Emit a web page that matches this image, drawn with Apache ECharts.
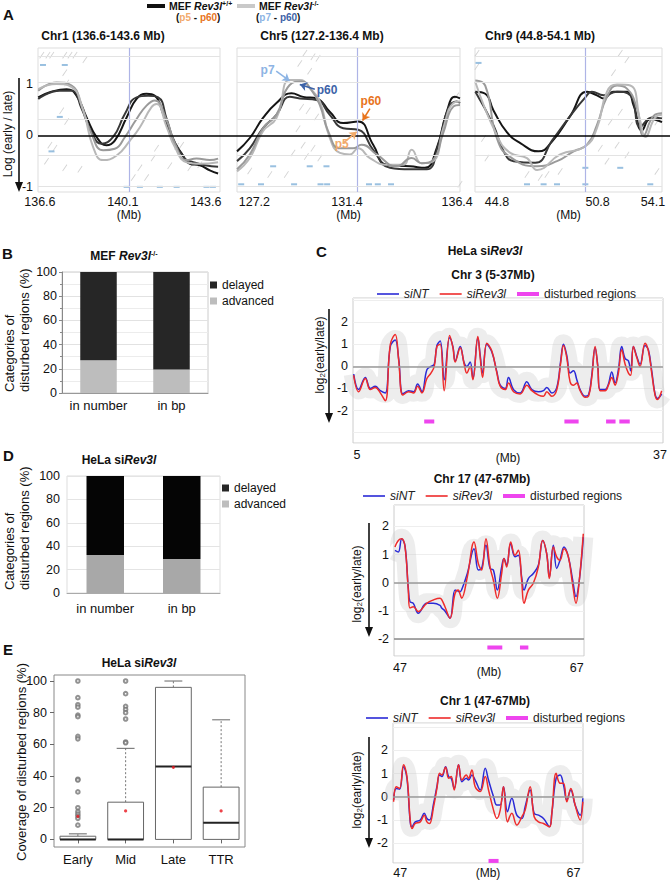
<!DOCTYPE html>
<html>
<head>
<meta charset="utf-8">
<script src="https://cdn.jsdelivr.net/npm/echarts@6/dist/echarts.min.js"></script>
<style>
html,body{margin:0;padding:0;background:#fff}
#main{width:670px;height:881px}
</style>
</head>
<body>
<div id="main"></div>
<script>
// ---------- A: replication timing, MEF (Mb, log early/late) ----------
var chr1Wt1 = [[136.53,0.74],[137.02,0.84],[137.73,0.9],[138.15,0.77],[138.57,0.35],[138.99,-0.03],[139.41,-0.19],[139.76,-0.1],[140.26,0.35],[140.68,0.71],[141.1,0.81],[141.45,0.77],[141.8,0.42],[142.16,-0.03],[142.58,-0.35],[142.93,-0.55],[143.35,-0.58],[143.77,-0.68],[144.12,-0.74]];
var chr1Wt2 = [[136.53,0.71],[137.44,0.87],[137.94,0.87],[138.36,0.52],[138.78,0.06],[139.2,-0.16],[139.69,-0.03],[140.19,0.42],[140.68,0.74],[141.17,0.77],[141.59,0.74],[141.95,0.32],[142.22,-0.06],[142.72,-0.45],[143.07,-0.52],[143.56,-0.58],[144.12,-0.61]];
var chr1Ko1 = [[136.53,0.87],[137.3,1.03],[137.94,0.97],[138.36,0.58],[138.78,0.03],[139.27,-0.29],[139.76,-0.26],[140.19,-0.03],[140.68,0.32],[141.1,0.58],[141.45,0.68],[141.95,0.29],[142.3,-0.16],[142.79,-0.48],[143.21,-0.45],[143.77,-0.48],[144.12,-0.45]];
var chr1Ko2 = [[136.53,0.9],[137.3,1.0],[137.94,0.94],[138.43,0.48],[138.85,-0.23],[139.27,-0.48],[139.84,-0.39],[140.4,-0.1],[140.82,0.16],[141.31,0.55],[141.52,0.61],[141.95,0.16],[142.3,-0.23],[142.79,-0.52],[143.35,-0.55],[144.12,-0.52]];

var chr5Wt1 = [[126.41,-0.31],[126.99,-0.05],[127.59,0.34],[128.2,0.63],[128.88,0.82],[129.41,0.75],[130.02,0.72],[130.62,0.46],[131.23,0.24],[131.91,0.27],[132.59,-0.18],[133.2,-0.57],[134.26,-0.6],[134.94,-0.63],[135.47,-0.25],[135.93,0.46],[136.3,0.75],[136.53,0.72]];
var chr5Wt2 = [[126.41,-0.5],[126.99,-0.25],[127.59,0.14],[128.2,0.4],[128.8,0.75],[129.26,0.72],[130.02,0.69],[130.62,0.4],[131.23,0.14],[131.91,0.11],[132.59,-0.28],[133.35,-0.63],[134.26,-0.66],[135.02,-0.66],[135.55,-0.18],[136.0,0.53],[136.38,0.66],[136.53,0.63]];
var chr5Ko1 = [[126.41,-0.7],[126.99,-0.44],[127.59,0.08],[128.2,0.34],[128.8,1.08],[129.26,1.08],[129.71,0.92],[130.17,0.66],[130.62,-0.05],[131.08,-0.34],[131.53,-0.37],[131.91,-0.25],[132.44,-0.44],[133.2,-0.57],[133.95,-0.57],[134.34,-0.28],[134.79,-0.54],[135.32,-0.5],[135.77,0.14],[136.23,0.63],[136.53,0.66]];
var chr5Ko2 = [[126.41,-0.66],[126.99,-0.37],[127.59,0.14],[128.2,0.4],[128.8,0.98],[129.34,1.05],[129.79,0.88],[130.17,0.59],[130.55,0.08],[131.08,-0.25],[131.68,-0.25],[132.06,-0.18],[132.75,-0.37],[133.65,-0.6],[134.34,-0.44],[134.79,-0.54],[135.32,-0.47],[135.77,0.05],[136.23,0.56],[136.53,0.59]];

var chr9Wt1 = [[43.51,0.85],[44.1,0.81],[44.6,0.48],[45.4,0.06],[46.19,-0.15],[47.28,-0.31],[48.08,-0.12],[49.17,0.38],[50.17,0.85],[50.76,0.78],[51.16,0.72],[51.75,0.85],[52.55,0.85],[52.95,0.58],[53.45,0.1],[53.94,0.32],[54.64,0.26]];
var chr9Wt2 = [[43.51,0.85],[44.6,0.19],[45.2,-0.31],[45.79,-0.5],[47.08,-0.53],[48.08,-0.1],[49.17,0.38],[50.07,0.74],[50.46,0.85],[51.16,0.78],[51.96,0.85],[52.75,0.78],[53.35,0.17],[54.04,0.35],[54.64,0.33]];
var chr9Ko1 = [[43.51,1.07],[44.1,0.97],[44.8,-0.06],[45.59,-0.42],[47.19,-0.6],[48.38,-0.5],[49.37,-0.31],[50.17,-0.18],[50.76,0.2],[51.36,0.75],[51.96,0.97],[52.55,0.91],[53.15,0.52],[53.54,0],[54.14,0.38],[54.64,0.43]];
var chr9Ko2 = [[43.51,1.04],[44.8,0],[45.59,-0.34],[46.59,-0.44],[47.19,-0.67],[48.57,-0.37],[50.07,-0.21],[50.76,0.14],[51.36,0.85],[51.96,0.99],[52.75,0.97],[53.35,0.27],[53.64,-0.03],[54.24,0.35],[54.64,0.4]];

// background probe marks of the genome browser tracks (gray strokes, blue dashes)
var chr1Probes = [[136.68,1.56],[136.94,1.56],[137.1,1.56],[137.65,1.56],[137.87,1.56],[138.08,1.56],[138.5,1.47],[137.65,1.22],[137.73,1.02],[137.52,0.48],[137.73,0.27],[137.02,-0.19],[137.23,-0.25],[136.88,-0.5],[137.65,-0.63],[138.29,-0.66],[141.52,-0.25],[142.37,-0.21],[142.58,-0.19],[141.38,-0.44],[142.08,-0.59],[142.93,-0.63],[143.35,-0.57],[140.82,-0.63],[140.54,-0.82],[141.1,-0.82]];
var chr1Blue = [[136.73,1.37],[137.65,1.37],[137.44,0.36],[137.09,-0.31],[140.26,-1.0],[140.82,-1.0],[141.66,-1.0],[142.37,-1.0],[143.63,-1.0],[143.9,-1.0]];
var chr5Probes = [[129.49,1.6],[129.86,1.53],[129.26,1.4],[130.09,1.5],[129.71,1.25],[129.34,0.55],[129.64,0.48],[130.02,0.36],[129.18,0.13],[129.41,-0.19],[129.86,-0.25],[128.95,-0.34],[129.56,-0.41],[130.17,-0.44],[126.99,-0.69],[127.9,-0.76],[128.65,-0.76],[136.38,0.77],[136.53,-0.95]];
var chr5Blue = [[128.05,-0.6],[129.71,-0.6],[130.47,-0.6],[126.6,-0.95],[127.5,-0.95],[129.0,-0.95],[130.2,-0.95],[130.5,-0.95],[132.4,-0.95],[132.8,-0.95],[133.4,-0.95]];
var chr9Probes = [[43.61,1.6],[43.61,1.34],[52.15,1.6],[52.55,1.47],[51.75,1.22],[52.15,0.45],[51.56,0.26],[52.75,0.2],[51.96,-0.19],[50.96,-0.25],[52.55,-0.38],[51.36,-0.5],[48.57,-0.7],[47.78,-0.76],[47.38,-0.82],[46.59,-0.76],[54.34,-0.7],[54.34,0.26],[44.0,-0.06],[44.2,-0.44]];
var chr9Blue = [[43.7,1.41],[50.07,-0.63],[52.15,-0.63],[46.59,-0.95],[47.58,-0.95],[48.38,-0.95],[50.07,-0.95],[53.94,-0.95]];

var ticksChr1A = [136.6, 140.1, 143.6];
var ticksChr5A = [127.2, 131.4, 136.4];
var ticksChr9A = [44.8, 50.8, 54.1];
var centerLinesA = [140.36, 131.85, 50.07];
var gridLinesA = [1.53, 1.03, 0.32, -0.39, -0.98];
var ticksLogA = [-1, 0, 1];

// ---------- B / D: categories of disturbed regions (%) ----------
var barCats = ['in number', 'in bp'];
var mefAdvanced = [27, 19.5];
var mefDelayed = [73, 80.5];
var helaAdvanced = [32.5, 29];
var helaDelayed = [67.5, 71];

// ---------- E: coverage of disturbed regions (%) ----------
var boxCats = ['Early', 'Mid', 'Late', 'TTR'];
var boxLow = [0, 0, 0, 0];
var boxQ1 = [0, 0, 0, 0];
var boxMedian = [0, 0, 46, 10.5];
var boxQ3 = [2, 23.5, 96, 33];
var boxHigh = [3.5, 57.5, 100, 75.5];
var boxMean = [14.5, 18, 45.5, 18];
var earlyOutliers = [100, 89.5, 85, 83.5, 78.5, 77.5, 65, 63.5, 38, 37.5, 30, 20, 17.5, 16, 14.7, 13.3, 9];
var midOutliers = [100, 92, 84, 82, 80, 76, 61.5, 61];
var ticksPct = [0, 20, 40, 60, 80, 100];

// ---------- C: HeLa log2(early/late) ----------
var chr3Mb = [4.65,5.18,5.88,6.41,6.93,7.46,7.99,8.52,9.04,9.40,9.85,10.45,10.98,11.40,11.86,12.38,12.81,13.16,13.44,13.79,14.21,14.78,15.13,15.37,15.90,16.32,16.60,16.95,17.24,17.76,18.01,18.26,18.71,19.24,19.77,20.12,20.65,21.0,21.53,22.23,22.93,23.46,24.16,24.69,25.04,25.57,26.10,26.52,26.80,27.15,27.50,27.86,28.21,28.56,29.09,29.44,29.79,30.14,30.42,30.67,31.20,31.55,31.90,32.25,32.60,32.95,33.31,33.66,33.90,34.18,34.54,34.89,35.41,35.77,36.12,36.47,36.72,37.17];
var chr3SiNT = [-0.35,-1.05,-0.5,-1.0,-0.9,-1.1,-1.2,0.9,1.2,0.35,-1.25,-1.1,-1.15,-0.8,-1.15,-0.15,0.0,0.1,0.95,1.15,-0.6,1.3,0.9,0.25,0.9,0.15,0.0,0.2,-0.55,1.3,0.5,-0.3,1.0,0.65,-0.25,-0.85,-1.0,-0.5,-1.05,-1.2,-0.7,-1.05,-1.15,-1.1,-0.95,-1.2,-0.95,0.3,1.0,0.5,-0.3,-0.2,-0.6,-1.05,-1.35,-1.3,-0.4,0.85,0.05,-1.05,-1.05,-0.8,-0.25,-0.75,-0.15,0.9,0.35,0.25,-0.2,0.9,0.45,0.1,0.95,0.75,-0.2,-1.25,-1.45,-1.25];
var chr3SiRev3l = [-0.4,-1.15,-0.55,-1.05,-0.95,-1.2,-1.55,1.0,1.45,0.3,-1.3,-1.15,-1.2,-0.9,-1.2,-0.55,-0.3,0.0,0.9,1.0,-1.1,1.4,0.85,0.2,0.85,0.1,-0.3,0.0,-0.6,1.35,0.4,-0.5,1.05,0.7,-0.3,-0.9,-1.05,-0.75,-1.15,-1.25,-0.85,-1.1,-1.3,-1.35,-1.15,-1.35,-1.05,0.2,0.95,0.4,-0.7,-0.85,-0.75,-1.1,-1.4,-1.35,-0.5,0.9,0.0,-1.1,-1.1,-0.85,-0.5,-0.85,-0.3,0.75,0.1,-0.3,-0.4,0.9,0.4,0.0,1.05,0.7,-0.3,-1.3,-1.5,-1.1];
var chr3DistStart = [12.10, 26.9, 31.3, 32.7];
var chr3DistEnd = [13.16, 28.4, 32.3, 33.8];

var chr17Mb = [46.43,46.81,47.19,47.57,47.94,48.13,48.51,49.07,50.02,50.77,51.53,51.72,52.09,52.66,53.23,53.60,53.79,53.98,54.62,55.38,55.87,56.24,56.73,57.19,57.57,58.02,58.51,58.77,59.08,59.53,60.02,60.4,60.77,61.04,61.53,62.09,62.66,63.15,63.6,63.91,64.36,64.74,65.11,65.57,66.06,66.55,66.92,67.3,67.75];
var chr17SiNT = [1.15,1.09,1.56,1.3,-0.2,-0.67,-0.73,-1.08,-0.73,-0.73,-0.8,-0.9,-1.0,-1.26,-0.26,-0.3,-0.32,-0.25,0.33,1.21,0.45,0.51,1.33,0.51,0.45,-0.26,0.56,0.86,0.62,1.39,0.92,0.98,0.21,-0.26,0.15,0.33,0.62,1.5,1.04,0.21,1.33,0.51,0.8,1.27,0.92,0.09,-0.49,0.09,1.62];
var chr17SiRev3l = [1.27,1.5,1.56,1.27,-0.26,-0.9,-0.85,-1.02,-0.73,-0.61,-0.55,-0.6,-0.85,-1.26,-0.38,-0.26,-0.4,-0.55,0.21,1.45,0.68,0.45,1.56,0.56,0.09,-0.55,0.33,0.86,0.56,1.45,0.98,1.15,0.09,-0.73,-0.26,-0.02,0.56,1.5,1.04,0.15,1.27,0.92,0.8,1.21,0.92,-0.08,-0.73,0.09,1.74];
var chr17DistStart = [56.89, 60.58];
var chr17DistEnd = [58.58, 61.53];

var chr1Mb = [46.23,46.54,46.92,47.38,47.77,48.15,48.35,48.73,49.31,49.77,50.08,50.38,50.85,51.23,51.54,51.81,52.23,52.58,52.88,53.23,53.73,54.12,54.62,54.88,55.27,55.65,56.23,56.81,57.19,57.77,58.15,58.54,58.92,59.38,59.88,60.46,61.04,61.42,62.0,62.46,62.96,63.54,64.23,64.5,65.0,65.46,65.85,66.23,66.69,67.19,67.77,68.08];
var chr1SiNT = [-0.14,0.36,0.32,1.3,0.8,-1.1,-1.3,-1.09,-1.01,-0.72,-0.94,-1.01,-0.29,0.43,0.94,0.87,1.3,0.87,0.8,0.36,1.38,0.65,0.8,0.72,0.94,0.72,0.29,1.23,0.72,0.0,-0.36,-0.36,0.43,-0.65,-0.07,-0.8,-0.94,-0.43,0.29,-0.72,-0.8,-0.94,-1.3,-0.72,0.8,0.94,0.51,-0.14,0.29,-0.36,-0.8,-0.07];
var chr1SiRev3l = [-0.22,0.43,0.36,1.38,0.87,-1.01,-1.38,-1.16,-1.09,-0.8,-1.09,-1.16,-0.43,0.36,1.01,0.94,1.28,0.8,0.87,0.29,1.38,0.72,0.94,0.8,1.16,0.43,0.22,0.87,0.29,-0.58,-0.94,-0.58,0.43,-1.09,-0.72,-1.23,-0.87,-0.58,0.43,-0.87,-1.09,-1.16,-1.3,-0.72,1.01,0.58,0.58,-0.22,0.36,-0.36,-1.01,-0.22];
var chr1DistStart = [57.19];
var chr1DistEnd = [58.35];

var ticksLogC = [-2, -1, 0, 1, 2];
var ticksChr3C = [5, 37];
var ticksChr17C = [47, 67];

var FONT = 'Liberation Sans, Arial, sans-serif';
var A_MIN = -1.1, A_MAX = 1.7;

function toPairs(xs, ys) {
  return xs.map(function (x, i) { return [x, ys[i]]; });
}
function segments(starts, ends, y) {
  var out = [];
  starts.forEach(function (s, i) {
    out.push([s, y], [ends[i], y], [ends[i], null]);
  });
  return out;
}

var richTitle = {
  b: { fontWeight: 'bold', fontSize: 12, fontFamily: FONT, color: '#111' },
  bi: { fontWeight: 'bold', fontStyle: 'italic', fontSize: 12, fontFamily: FONT, color: '#111' },
  sup: { fontWeight: 'bold', fontSize: 7, fontFamily: FONT, color: '#111', verticalAlign: 'top' },
  lb: { fontWeight: 'bold', fontSize: 10.5, fontFamily: FONT, color: '#111' },
  lbi: { fontWeight: 'bold', fontStyle: 'italic', fontSize: 10.5, fontFamily: FONT, color: '#111' },
  k: { fontWeight: 'bold', fontSize: 10, fontFamily: FONT, color: '#111' },
  o1: { fontWeight: 'bold', fontSize: 10, fontFamily: FONT, color: '#f2aa6c' },
  o2: { fontWeight: 'bold', fontSize: 10, fontFamily: FONT, color: '#e8741c' },
  u1: { fontWeight: 'bold', fontSize: 10, fontFamily: FONT, color: '#8db4e4' },
  u2: { fontWeight: 'bold', fontSize: 10, fontFamily: FONT, color: '#3d63a8' }
};

function ttl(text, x, y, align, size) {
  return { text: text, left: x, top: y, textAlign: align || 'center', padding: 0,
    textStyle: { fontSize: size || 12, fontWeight: 'bold', fontFamily: FONT, color: '#111', rich: richTitle } };
}

function vText(txt, x, y, size, align, rich) {
  return { type: 'text', x: x, y: y, rotation: Math.PI / 2, silent: true,
    style: { text: txt, fontSize: size, fontFamily: FONT, fill: '#111', align: align || 'center', verticalAlign: 'middle', rich: rich } };
}
function arrowDown(x, y1, y2) {
  return { type: 'group', silent: true, children: [
    { type: 'line', shape: { x1: x, y1: y1, x2: x, y2: y2 - 8 }, style: { stroke: '#111', lineWidth: 1.6 } },
    { type: 'polygon', shape: { points: [[x - 4, y2 - 10], [x + 4, y2 - 10], [x, y2]] }, style: { fill: '#111' } }
  ] };
}

var logRich = {
  a: { fontSize: 12, fontFamily: FONT, color: '#111' },
  s: { fontSize: 8, fontFamily: FONT, color: '#111', verticalAlign: 'bottom' }
};

function aXAxis(idx, min, max, ticks) {
  return { gridIndex: idx, type: 'value', min: min, max: max,
    axisLine: { show: false }, axisTick: { show: false }, splitLine: { show: false },
    axisLabel: { customValues: ticks, margin: 3, fontSize: 12.5, color: '#111', fontFamily: FONT,
      formatter: function (v) { return v.toFixed(1); } },
    name: '(Mb)', nameLocation: 'middle', nameGap: 17, nameMoveOverlap: false,
    nameTextStyle: { fontSize: 12, color: '#111', fontFamily: FONT } };
}
function aYAxis(idx, showLabel) {
  return { gridIndex: idx, type: 'value', min: A_MIN, max: A_MAX,
    axisLine: { show: false }, axisTick: { show: false }, splitLine: { show: false },
    axisLabel: { show: showLabel, customValues: ticksLogA, margin: 5, fontSize: 12.5, color: '#111', fontFamily: FONT } };
}
function aLine(name, data, idx, color) {
  return { name: name, type: 'line', xAxisIndex: idx, yAxisIndex: idx, data: data, smooth: 0.5,
    symbol: 'none', lineStyle: { color: color, width: 2 }, z: 4, silent: true };
}
function aProbes(idx, grayPts, bluePts) {
  return [
    { name: 'probes', type: 'scatter', xAxisIndex: idx, yAxisIndex: idx, data: grayPts, silent: true, z: 2,
      symbol: 'path://M0,10L7,0L8,0.9L1,10.9Z', symbolSize: [5, 7], itemStyle: { color: '#c6c6c6' } },
    { name: 'probes blue', type: 'scatter', xAxisIndex: idx, yAxisIndex: idx, data: bluePts, silent: true, z: 2,
      symbol: 'rect', symbolSize: [6, 2], itemStyle: { color: '#7fb0d8' } }
  ];
}
function aGuides(idx) {
  var d = [{ xAxis: centerLinesA[idx], lineStyle: { color: '#aeb4e6', width: 1.2, type: 'solid' } }];
  gridLinesA.forEach(function (v) { d.push({ yAxis: v }); });
  return { silent: true, symbol: 'none', label: { show: false },
    lineStyle: { color: '#e3e3e3', width: 1, type: 'solid' }, data: d };
}
function annot(label, color, from, to) {
  return [
    { coord: from, lineStyle: { color: color, width: 1.6, type: 'solid' },
      label: { show: true, position: 'start', formatter: label, color: color, fontSize: 12, fontWeight: 'bold', fontFamily: FONT, distance: 2 } },
    { coord: to }
  ];
}

function cXAxis(idx, min, max, ticks, nameGap, margin) {
  return { gridIndex: idx, type: 'value', min: min, max: max,
    axisLine: { show: false }, axisTick: { show: false }, splitLine: { show: false },
    axisLabel: { customValues: ticks, margin: margin, fontSize: 12.5, color: '#111', fontFamily: FONT },
    name: '(Mb)', nameLocation: 'middle', nameGap: nameGap, nameMoveOverlap: false,
    nameTextStyle: { fontSize: 12, color: '#111', fontFamily: FONT } };
}
function cYAxis(idx, min, max, split) {
  return { gridIndex: idx, type: 'value', min: min, max: max, splitNumber: split,
    axisLine: { show: false }, axisTick: { show: false },
    splitLine: { show: true, lineStyle: { color: '#eeeeee' } },
    axisLabel: { customValues: ticksLogC, margin: 5, fontSize: 12.5, color: '#111', fontFamily: FONT } };
}
function cSeries(idx, xs, nt, rev, dist, guides) {
  return [
    { name: 'spread', type: 'line', xAxisIndex: idx, yAxisIndex: idx, data: toPairs(xs, nt), smooth: 0.4,
      symbol: 'none', silent: true, z: 1, lineStyle: { color: 'rgba(200,200,200,0.33)', width: 20 },
      markLine: { silent: true, symbol: 'none', label: { show: false }, data: guides } },
    { name: 'siNT', type: 'line', xAxisIndex: idx, yAxisIndex: idx, data: toPairs(xs, nt), smooth: 0.4,
      symbol: 'none', z: 3, lineStyle: { color: '#2a2ad6', width: 1.5 }, itemStyle: { color: '#2a2ad6' } },
    { name: 'siRev3l', type: 'line', xAxisIndex: idx, yAxisIndex: idx, data: toPairs(xs, rev), smooth: 0.4,
      symbol: 'none', z: 4, lineStyle: { color: '#ee2b2b', width: 1.5 }, itemStyle: { color: '#ee2b2b' } },
    { name: 'disturbed regions', type: 'line', xAxisIndex: idx, yAxisIndex: idx, data: dist,
      symbol: 'none', z: 6, lineStyle: { color: '#ee45ee', width: 4 }, itemStyle: { color: '#ee45ee' } }
  ];
}
function cLegend(top, left) {
  return { top: top, left: left, itemWidth: 22, itemHeight: 8, itemGap: 11, padding: 0,
    selectedMode: false, symbolKeepAspect: true,
    data: [
      { name: 'siNT', icon: 'path://M0,0H22V1.6H0Z' },
      { name: 'siRev3l', icon: 'path://M0,0H22V1.6H0Z' },
      { name: 'disturbed regions', icon: 'path://M0,0H22V4H0Z' }
    ],
    formatter: function (n) { return n === 'disturbed regions' ? n : '{i|' + n + '}'; },
    textStyle: { fontSize: 12, color: '#222', fontFamily: FONT,
      rich: { i: { fontStyle: 'italic', fontSize: 12, fontFamily: FONT, color: '#222' } } } };
}

function renderBox(params, api) {
  var i = api.value(0);
  var half = api.size([1, 0])[0] * 0.375;
  var cx = api.coord([i, 0])[0];
  var yLo = api.coord([i, api.value(1)])[1];
  var yQ1 = api.coord([i, api.value(2)])[1];
  var yMed = api.coord([i, api.value(3)])[1];
  var yQ3 = api.coord([i, api.value(4)])[1];
  var yHi = api.coord([i, api.value(5)])[1];
  var thin = { stroke: '#666', lineWidth: 1 };
  var dash = { stroke: '#777', lineWidth: 1, lineDash: [2, 2] };
  return { type: 'group', children: [
    { type: 'line', shape: { x1: cx, y1: yQ3, x2: cx, y2: yHi }, style: dash },
    { type: 'line', shape: { x1: cx, y1: yQ1, x2: cx, y2: yLo }, style: dash },
    { type: 'line', shape: { x1: cx - half / 2, y1: yHi, x2: cx + half / 2, y2: yHi }, style: thin },
    { type: 'rect', shape: { x: cx - half, y: yQ3, width: half * 2, height: Math.max(yQ1 - yQ3, 0.5) },
      style: { fill: '#fff', stroke: '#666', lineWidth: 1 } },
    { type: 'line', shape: { x1: cx - half, y1: yMed, x2: cx + half, y2: yMed }, style: { stroke: '#222', lineWidth: 2 } }
  ] };
}

var chart = echarts.init(document.getElementById('main'), null, { renderer: 'svg' });

var barAxisLabel = { fontSize: 13, color: '#111', fontFamily: FONT, interval: 0 };

var option = {
  animation: false,
  backgroundColor: '#fff',
  textStyle: { fontFamily: FONT },
  title: [
    ttl('A', 3, 7, 'left', 15),
    ttl('B', 2, 246, 'left', 15),
    ttl('C', 316, 244, 'left', 15),
    ttl('D', 3, 448, 'left', 15),
    ttl('E', 3, 642, 'left', 15),
    ttl('{lb|MEF }{lbi|Rev3l}{sup|+/+}', 169, 0, 'left'),
    ttl('{k|(}{o1|p5}{k| - }{o2|p60}{k|)}', 176, 12, 'left'),
    ttl('{lb|MEF }{lbi|Rev3l}{sup|-/-}', 259, 0, 'left'),
    ttl('{k|(}{u1|p7}{k| - }{u2|p60}{k|)}', 256, 12, 'left'),
    ttl('Chr1 (136.6-143.6 Mb)', 103, 30),
    ttl('Chr5 (127.2-136.4 Mb)', 322, 30),
    ttl('Chr9 (44.8-54.1 Mb)', 540, 30),
    ttl('{b|MEF }{bi|Rev3l}{sup|-/-}', 124, 250),
    ttl('{b|HeLa si}{bi|Rev3l}', 119, 454),
    ttl('{b|HeLa si}{bi|Rev3l}', 139, 657),
    ttl('{b|HeLa si}{bi|Rev3l}', 485, 245),
    ttl('Chr 3 (5-37Mb)', 493, 269),
    ttl('Chr 17 (47-67Mb)', 482, 473),
    ttl('Chr 1 (47-67Mb)', 485, 695)
  ],
  legend: [
    { top: 279, left: 210, orient: 'vertical', icon: 'rect', itemWidth: 7, itemHeight: 7, itemGap: 4, padding: 0,
      selectedMode: false, data: ['delayed', 'advanced'], textStyle: { fontSize: 12, color: '#111', fontFamily: FONT } },
    { top: 482, left: 222, orient: 'vertical', icon: 'rect', itemWidth: 7, itemHeight: 7, itemGap: 4, padding: 0,
      selectedMode: false, data: ['delayed', 'advanced'], textStyle: { fontSize: 12, color: '#111', fontFamily: FONT } },
    cLegend(288, 377),
    cLegend(490, 363),
    cLegend(712, 366)
  ],
  grid: [
    { left: 38, top: 48, width: 182, height: 144, show: true, borderColor: '#dddddd', outerBoundsMode: 'none' },
    { left: 237, top: 48, width: 223, height: 144, show: true, borderColor: '#dddddd', outerBoundsMode: 'none' },
    { left: 475, top: 48, width: 187, height: 144, show: true, borderColor: '#dddddd', outerBoundsMode: 'none' },
    { left: 38, top: 48, width: 632, height: 144, outerBoundsMode: 'none' },
    { left: 62, top: 272, width: 146, height: 121, show: true, borderColor: '#cccccc', outerBoundsMode: 'none' },
    { left: 67, top: 476, width: 153, height: 117, show: true, borderColor: '#dddddd', outerBoundsMode: 'none' },
    { left: 54, top: 675, width: 191, height: 172, show: true, borderColor: '#888888', outerBoundsMode: 'none' },
    { left: 353, top: 298, width: 310, height: 145, show: true, borderColor: '#cccccc', outerBoundsMode: 'none' },
    { left: 394, top: 505, width: 190, height: 151, show: true, borderColor: '#cccccc', outerBoundsMode: 'none' },
    { left: 393, top: 723, width: 190, height: 140, show: true, borderColor: '#cccccc', outerBoundsMode: 'none' }
  ],
  xAxis: [
    aXAxis(0, 136.52, 144.2, ticksChr1A),
    aXAxis(1, 126.41, 136.53, ticksChr5A),
    aXAxis(2, 43.49, 54.64, ticksChr9A),
    { gridIndex: 3, type: 'value', min: 0, max: 1, show: false },
    { gridIndex: 4, type: 'category', data: barCats,
      axisLine: { lineStyle: { color: '#999' } }, axisTick: { length: 4, lineStyle: { color: '#999' } },
      axisLabel: Object.assign({ margin: 6 }, barAxisLabel) },
    { gridIndex: 5, type: 'category', data: barCats,
      axisLine: { lineStyle: { color: '#aaa' } }, axisTick: { length: 4, lineStyle: { color: '#aaa' } },
      axisLabel: Object.assign({ margin: 9 }, barAxisLabel) },
    { gridIndex: 6, type: 'category', data: boxCats,
      axisLine: { show: false }, axisTick: { show: true, alignWithLabel: true, length: 4, lineStyle: { color: '#666' } },
      axisLabel: Object.assign({ margin: 6 }, barAxisLabel) },
    cXAxis(7, 4.58, 37.31, ticksChr3C, 9, 5),
    cXAxis(8, 46.32, 67.83, ticksChr17C, 10, 5),
    cXAxis(9, 46.16, 68.1, ticksChr17C, 4, 3)
  ],
  yAxis: [
    aYAxis(0, true),
    aYAxis(1, false),
    aYAxis(2, false),
    { gridIndex: 3, type: 'value', min: A_MIN, max: A_MAX, show: false },
    { gridIndex: 4, type: 'value', min: 0, max: 100, interval: 20,
      axisLine: { show: true, lineStyle: { color: '#888' } },
      axisTick: { show: true, length: 3, lineStyle: { color: '#888' } },
      minorTick: { show: true, splitNumber: 2, length: 2, lineStyle: { color: '#888' } },
      splitLine: { lineStyle: { color: '#e2e2e2' } },
      minorSplitLine: { show: true, lineStyle: { color: '#ececec' } },
      axisLabel: { margin: 5, fontSize: 12.5, color: '#111', fontFamily: FONT } },
    { gridIndex: 5, type: 'value', min: 0, max: 100, interval: 20,
      axisLine: { show: false }, axisTick: { show: false },
      splitLine: { lineStyle: { color: '#e4e4e4' } },
      axisLabel: { margin: 7, fontSize: 12.5, color: '#111', fontFamily: FONT } },
    { gridIndex: 6, type: 'value', min: -4.8, max: 103.8,
      axisLine: { show: false }, splitLine: { show: false },
      axisTick: { show: true, customValues: ticksPct, length: 4, lineStyle: { color: '#666' } },
      axisLabel: { customValues: ticksPct, margin: 7, fontSize: 12.5, color: '#111', fontFamily: FONT } },
    cYAxis(7, -3.47, 3.1, 6),
    cYAxis(8, -2.6, 2.76, 5),
    cYAxis(9, -2.87, 3.19, 6)
  ],
  series: [
    // A, Chr1
    Object.assign(aLine('chr1 wt 1', chr1Wt1, 0, '#151515'), { markLine: aGuides(0) }),
    aLine('chr1 wt 2', chr1Wt2, 0, '#383838'),
    aLine('chr1 ko 1', chr1Ko1, 0, '#9a9a9a'),
    aLine('chr1 ko 2', chr1Ko2, 0, '#b8b8b8'),
    // A, Chr5
    Object.assign(aLine('chr5 wt 1', chr5Wt1, 1, '#151515'), { markLine: aGuides(1) }),
    aLine('chr5 wt 2', chr5Wt2, 1, '#383838'),
    aLine('chr5 ko 1', chr5Ko1, 1, '#b8b8b8'),
    Object.assign(aLine('chr5 ko 2', chr5Ko2, 1, '#9a9a9a'), {
      markLine: { silent: true, symbol: ['none', 'arrow'], symbolSize: 7, z: 6, data: [
        annot('p7', '#8db4e4', [128.19, 1.25], [128.8, 1.06]),
        annot('p60', '#3d63a8', [129.94, 0.9], [129.26, 0.99]),
        annot('p60', '#e8741c', [132.44, 0.52], [132.11, 0.29]),
        annot('p5', '#f2aa6c', [131.23, -0.15], [131.84, 0.07])
      ] } }),
    // A, Chr9
    Object.assign(aLine('chr9 wt 1', chr9Wt1, 2, '#151515'), { markLine: aGuides(2) }),
    aLine('chr9 wt 2', chr9Wt2, 2, '#383838'),
    aLine('chr9 ko 1', chr9Ko1, 2, '#9a9a9a'),
    aLine('chr9 ko 2', chr9Ko2, 2, '#b8b8b8'),
    // A, shared zero line
    { name: 'zero', type: 'line', xAxisIndex: 3, yAxisIndex: 3, data: [], silent: true,
      markLine: { silent: true, symbol: 'none', label: { show: false },
        lineStyle: { color: '#000', width: 1.5, type: 'solid' }, data: [{ yAxis: 0 }] } },
    // B
    { name: 'advanced', type: 'bar', stack: 'b', xAxisIndex: 4, yAxisIndex: 4, data: mefAdvanced, barWidth: '50%', itemStyle: { color: '#bdbdbd' } },
    { name: 'delayed', type: 'bar', stack: 'b', xAxisIndex: 4, yAxisIndex: 4, data: mefDelayed, barWidth: '50%', itemStyle: { color: '#262626' } },
    // D
    { name: 'advanced', type: 'bar', stack: 'd', xAxisIndex: 5, yAxisIndex: 5, data: helaAdvanced, barWidth: '49%', itemStyle: { color: '#a8a8a8' } },
    { name: 'delayed', type: 'bar', stack: 'd', xAxisIndex: 5, yAxisIndex: 5, data: helaDelayed, barWidth: '49%', itemStyle: { color: '#050505' } },
    // E
    { name: 'coverage', type: 'custom', xAxisIndex: 6, yAxisIndex: 6, renderItem: renderBox, silent: true,
      encode: { x: 0, y: [1, 2, 3, 4, 5] },
      data: boxCats.map(function (c, i) { return [i, boxLow[i], boxQ1[i], boxMedian[i], boxQ3[i], boxHigh[i]]; }) },
    { name: 'outliers', type: 'scatter', xAxisIndex: 6, yAxisIndex: 6, symbol: 'emptyCircle', symbolSize: 3.6, silent: true,
      itemStyle: { color: '#777', borderWidth: 0.8 }, z: 5,
      data: earlyOutliers.map(function (v) { return [0, v]; }).concat(midOutliers.map(function (v) { return [1, v]; })) },
    { name: 'mean', type: 'scatter', xAxisIndex: 6, yAxisIndex: 6, symbol: 'circle', symbolSize: 3.2, silent: true,
      itemStyle: { color: '#e8141c' }, z: 6,
      data: boxMean.map(function (v, i) { return [i, v]; }) }
  ]
    .concat(aProbes(0, chr1Probes, chr1Blue))
    .concat(aProbes(1, chr5Probes, chr5Blue))
    .concat(aProbes(2, chr9Probes, chr9Blue))
    .concat(cSeries(7, chr3Mb, chr3SiNT, chr3SiRev3l, segments(chr3DistStart, chr3DistEnd, -2.5),
      [{ yAxis: 0, lineStyle: { color: '#9a9a9a', width: 1.5, type: 'solid' } }]))
    .concat(cSeries(8, chr17Mb, chr17SiNT, chr17SiRev3l, segments(chr17DistStart, chr17DistEnd, -2.3),
      [{ yAxis: 0, lineStyle: { color: '#9a9a9a', width: 1.5, type: 'solid' } },
       { yAxis: -2, lineStyle: { color: '#8a8a8a', width: 1.5, type: 'solid' } }]))
    .concat(cSeries(9, chr1Mb, chr1SiNT, chr1SiRev3l, segments(chr1DistStart, chr1DistEnd, -2.78),
      [{ yAxis: 0, lineStyle: { color: '#9a9a9a', width: 1.5, type: 'solid' } }])),
  graphic: [
    { type: 'rect', shape: { x: 147, y: 4, width: 18, height: 4 }, style: { fill: '#111' }, silent: true },
    { type: 'rect', shape: { x: 237, y: 4, width: 18, height: 4 }, style: { fill: '#c9c9c9' }, silent: true },
    vText('Log (early / late)', 8, 134, 12),
    arrowDown(19, 78, 192),
    vText('Categories of', 9, 392, 13, 'left'),
    vText('disturbed regions (%)', 24, 392, 13, 'left'),
    vText('Categories of', 9, 590, 13, 'left'),
    vText('disturbed regions (%)', 24, 590, 13, 'left'),
    vText('Coverage of disturbed regions (%)', 21, 762, 13),
    vText('{a|log}{s|2}{a|(early/late)}', 320, 355, 12, 'center', logRich),
    arrowDown(329, 309, 423),
    vText('{a|log}{s|2}{a|(early/late)}', 357, 584, 12, 'center', logRich),
    arrowDown(369, 523, 637),
    vText('{a|log}{s|2}{a|(early/late)}', 357, 790, 12, 'center', logRich),
    arrowDown(369, 737, 848)
  ]
};

chart.setOption(option);
</script>
</body>
</html>
